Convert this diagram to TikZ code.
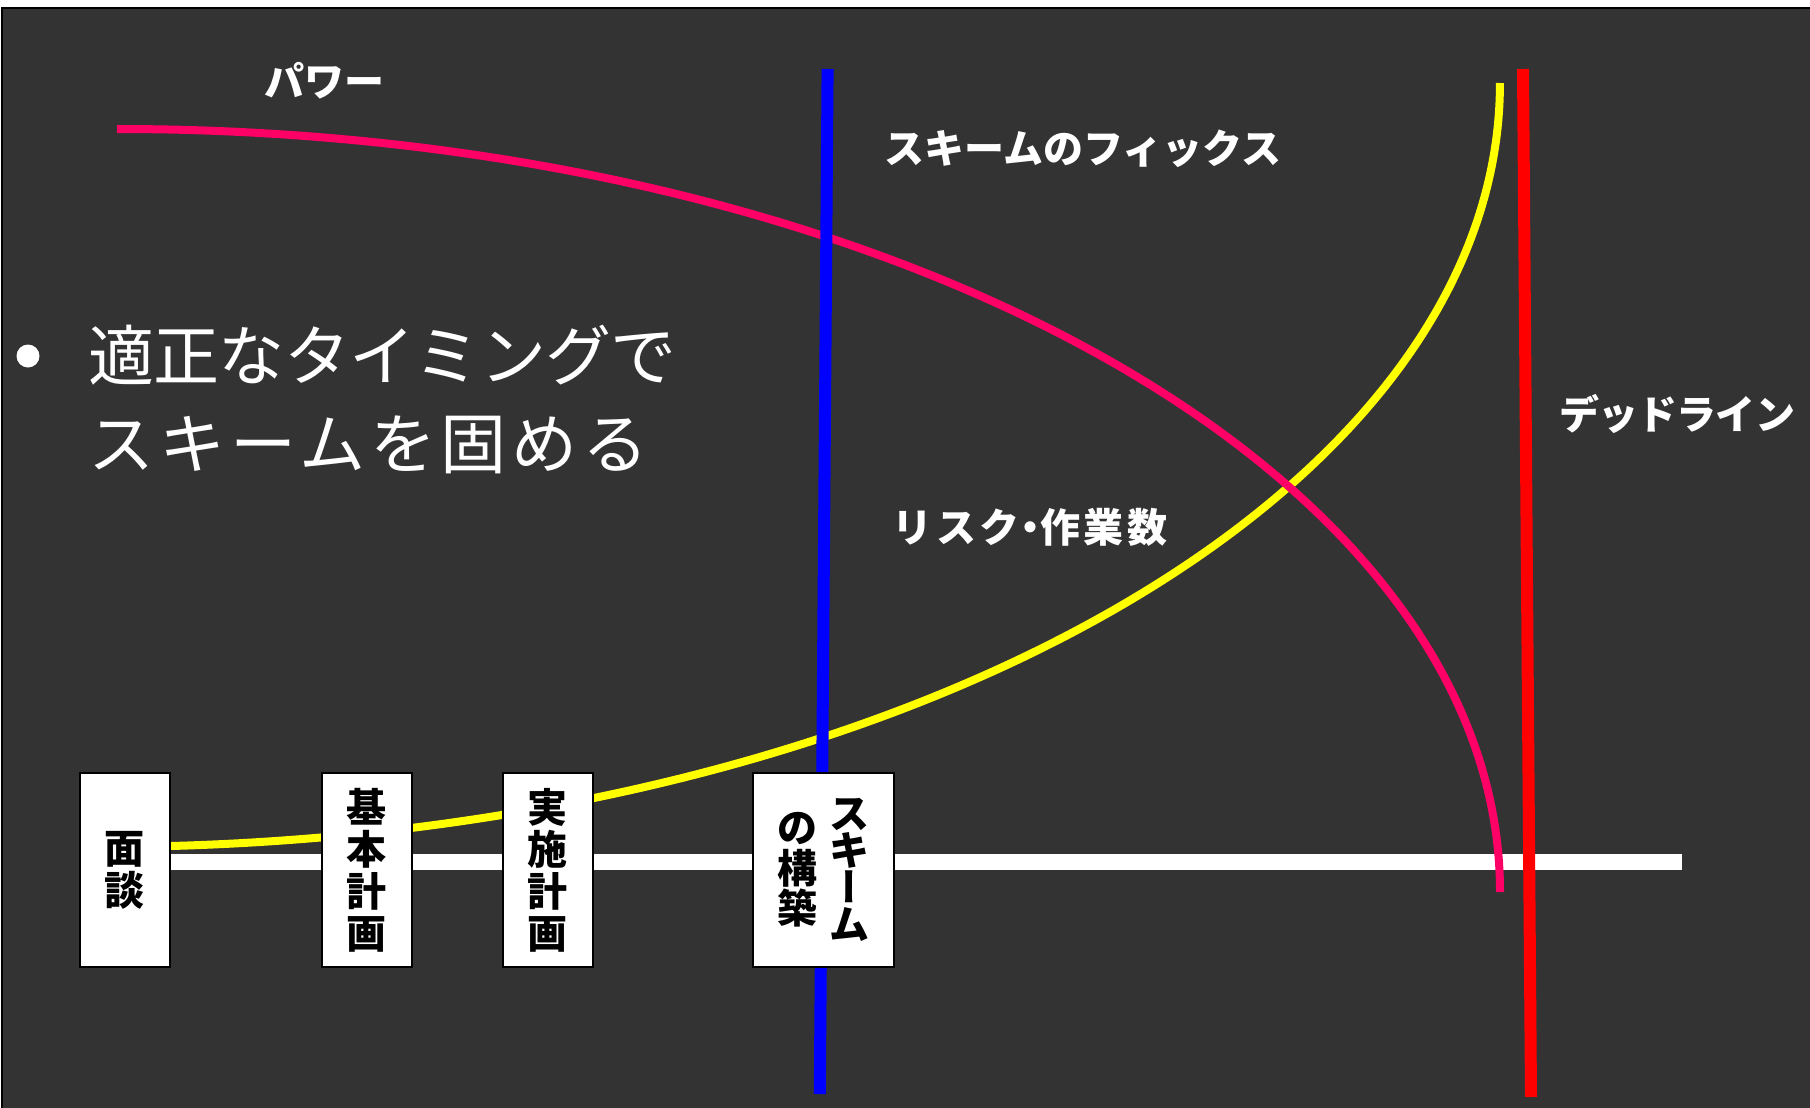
\documentclass[tikz,border=0pt]{standalone}
\usepackage{fontspec}
\setmainfont{Noto Sans CJK JP}
\newfontfamily\jpv[RawFeature=+vert]{Noto Sans CJK JP}
\usetikzlibrary{backgrounds}
\definecolor{bg}{HTML}{333333}
\definecolor{pinkline}{HTML}{FF0066}
\definecolor{blueline}{HTML}{0000FF}
\definecolor{redline}{HTML}{FF0000}
\definecolor{yellowline}{HTML}{FFFF00}
\newcommand{\vcol}[2]{$\vcenter{\baselineskip=#1\lineskiplimit=-100pt\lineskip=0pt #2}$}
\begin{document}
\begin{tikzpicture}[x=1pt,y=-1pt,
  lbl/.style={text=white, font=\fontsize{40}{44}\selectfont\bfseries, inner sep=0pt},
  bigtext/.style={text=white, font=\fontsize{66}{80}\selectfont, inner sep=0pt, anchor=west},
  stagebox/.style={draw=black, line width=2pt, fill=white, minimum width=90pt, minimum height=194pt,
    inner sep=0pt, align=center, font=\fontsize{40}{42}\selectfont\bfseries},
  curve/.style={line width=8pt},
  bar/.style={line width=12pt},
]
\useasboundingbox (0,0) rectangle (1810,1108);

% stage boxes
\node[stagebox] (mendan) at (124.5,870) {面\\談};
\node[stagebox] (kihon) at (366.5,870) {基\\本\\計\\画};
\node[stagebox] (jisshi) at (547.5,870) {実\\施\\計\\画};
\node[stagebox, minimum width=141pt] (scheme) at (823.5,870)
  {\vcol{40.5pt}{\hbox{の}\hbox{構}\hbox{築}}\hspace{12pt}%
   \vcol{37pt}{\hbox{ス}\hbox{キ}\hbox{\jpv ー}\hbox{ム}}};

% labels
\node[lbl] (power) at (324,81) {パワー};
\node[lbl] (fix) at (1083,149) {スキームのフィックス};
\node[lbl] (risk) at (1030,527) {\addfontfeature{LetterSpace=9}リスク{\addfontfeature{RawFeature=+palt}・}作業数};
\node[lbl] (deadline) at (1677,414) {\addfontfeature{LetterSpace=-2}デッドライン};

% bullet text
\node[circle, fill=white, minimum size=23pt, inner sep=0pt] (bullet) at (28,356) {};
\node[bigtext] (line1) at (88,355) {\addfontfeature{LetterSpace=-1}適正なタイミングで};
\node[bigtext] (line2) at (88,445) {\addfontfeature{LetterSpace=7.5}スキームを固める};

% coordinates
\coordinate (whiteEnd) at (1682,862);
\coordinate (yellowStart) at (171,846);
\coordinate (pinkStart) at (117,129);
\coordinate (blueTop) at (827.6,69);
\coordinate (blueBot) at (819.8,1094);
\coordinate (redTop) at (1523,69);
\coordinate (redBot) at (1531,1097);

\begin{scope}[on background layer]
  \fill[white] (0,0) rectangle (1810,1108);
  \filldraw[fill=bg, draw=black, line width=2pt] (2,8) rectangle (1814,1114);
  \draw[white, line width=16pt] (mendan.east |- whiteEnd) -- (whiteEnd);
  \draw[yellowline, curve] (yellowStart) arc[start angle=87.09, end angle=0, x radius=1400, y radius=764];
  \draw[pinkline, curve] (pinkStart) arc[start angle=-90, end angle=0, x radius=1383, y radius=763];
  \draw[blueline, bar] (blueTop) -- (blueBot);
  \draw[redline, bar] (redTop) -- (redBot);
\end{scope}
\end{tikzpicture}
\end{document}
